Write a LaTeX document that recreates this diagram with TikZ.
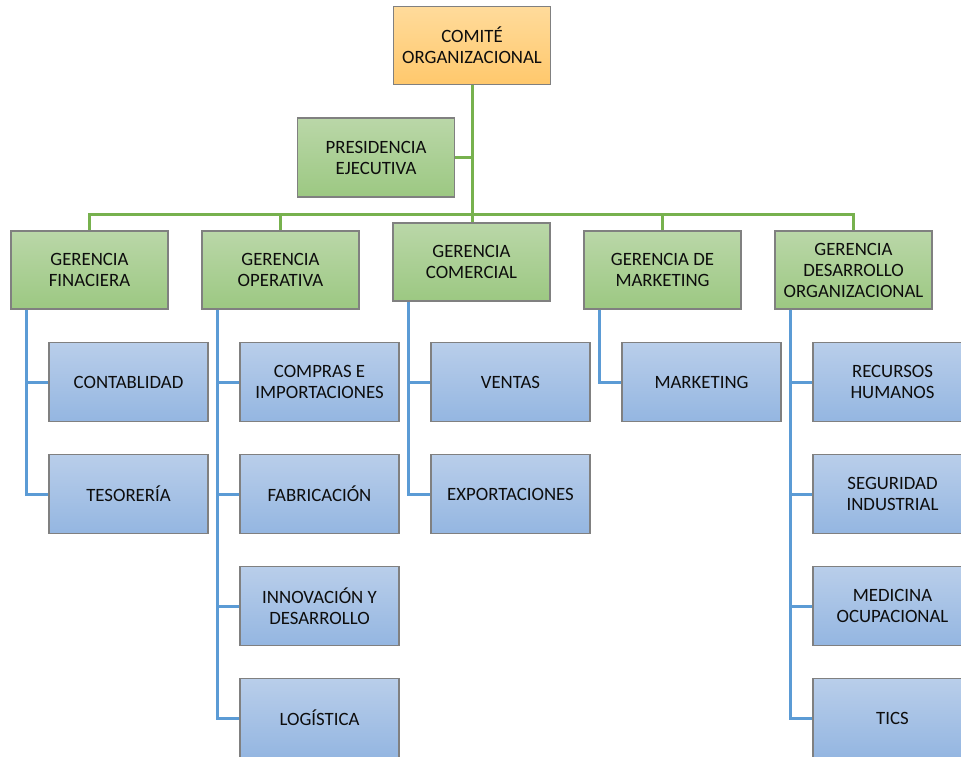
\documentclass[tikz,border=0pt]{standalone}
\usepackage{fontspec}
\setmainfont{Carlito}

\definecolor{verdeA}{RGB}{186,215,168}
\definecolor{verdeB}{RGB}{156,200,130}
\definecolor{azulA}{RGB}{185,206,234}
\definecolor{azulB}{RGB}{148,182,225}
\definecolor{naranjaA}{RGB}{255,219,155}
\definecolor{naranjaB}{RGB}{255,200,108}
\definecolor{lineaV}{RGB}{119,177,78}
\definecolor{lineaA}{RGB}{91,155,213}

\tikzset{
  caja/.style={draw=black!50, line width=1.2pt, minimum width=157pt, minimum height=78pt,
    inner sep=0pt, align=center, text=black!95, font=\fontsize{18.8}{21}\selectfont},
  verde/.style={caja, top color=verdeA, bottom color=verdeB},
  azul/.style={caja, top color=azulA, bottom color=azulB, minimum width=159pt, minimum height=79pt},
  naranja/.style={caja, top color=naranjaA, bottom color=naranjaB},
  lineaverde/.style={draw=lineaV, line width=3pt},
  lineaazul/.style={draw=lineaA, line width=3pt}
}

\begin{document}
\begin{tikzpicture}[x=1pt,y=-1pt]
  \useasboundingbox (0,0) rectangle (961,756);

  % comite y presidencia
  \node[naranja] (comite) at (472,45.5) {COMITÉ\\ORGANIZACIONAL};
  \node[verde, minimum height=79pt] (presid) at (376,157.5) {PRESIDENCIA\\EJECUTIVA};

  % gerencias
  \node[verde] (gfin) at (89.5,270) {GERENCIA\\FINACIERA};
  \node[verde] (gope) at (280.5,270) {GERENCIA\\OPERATIVA};
  \node[verde] (gcom) at (471.5,262) {GERENCIA\\COMERCIAL};
  \node[verde] (gmkt) at (662.5,270) {GERENCIA DE\\MARKETING};
  \node[verde] (gdes) at (853.5,270) {GERENCIA\\DESARROLLO\\ORGANIZACIONAL};

  \coordinate (barra) at (0,214);
  \draw[lineaverde] (comite.south) -- (comite.south |- gcom.north);
  \draw[lineaverde] (presid.east) -- (presid.east -| comite.south);
  \draw[lineaverde] (gfin.north) -- (gfin.north |- barra) -- (gdes.north |- barra) -- (gdes.north);
  \foreach \g in {gope,gmkt}
    \draw[lineaverde] (\g.north) -- (\g.north |- barra);

  % areas de cada gerencia
  \foreach \n/\t in {1/CONTABLIDAD, 2/TESORERÍA}
    \node[azul] (fin\n) at (128.5,270+112*\n) {\t};
  \foreach \n/\t in {1/{COMPRAS E\\IMPORTACIONES}, 2/FABRICACIÓN, 3/{INNOVACIÓN Y\\DESARROLLO}, 4/LOGÍSTICA}
    \node[azul] (ope\n) at (319.5,270+112*\n) {\t};
  \foreach \n/\t in {1/VENTAS, 2/EXPORTACIONES}
    \node[azul] (com\n) at (510.5,270+112*\n) {\t};
  \node[azul] (mkt1) at (701.5,382) {MARKETING};
  \foreach \n/\t in {1/{RECURSOS\\HUMANOS}, 2/{SEGURIDAD\\INDUSTRIAL}, 3/{MEDICINA\\OCUPACIONAL}, 4/TICS}
    \node[azul] (des\n) at (892.5,270+112*\n) {\t};

  \foreach \n in {1,2} {
    \draw[lineaazul] ([xshift=16pt]gfin.south west) |- (fin\n.west);
    \draw[lineaazul] ([xshift=16pt]gcom.south west) |- (com\n.west);
  }
  \foreach \n in {1,...,4} {
    \draw[lineaazul] ([xshift=16pt]gope.south west) |- (ope\n.west);
    \draw[lineaazul] ([xshift=16pt]gdes.south west) |- (des\n.west);
  }
  \draw[lineaazul] ([xshift=16pt]gmkt.south west) |- (mkt1.west);
\end{tikzpicture}
\end{document}
